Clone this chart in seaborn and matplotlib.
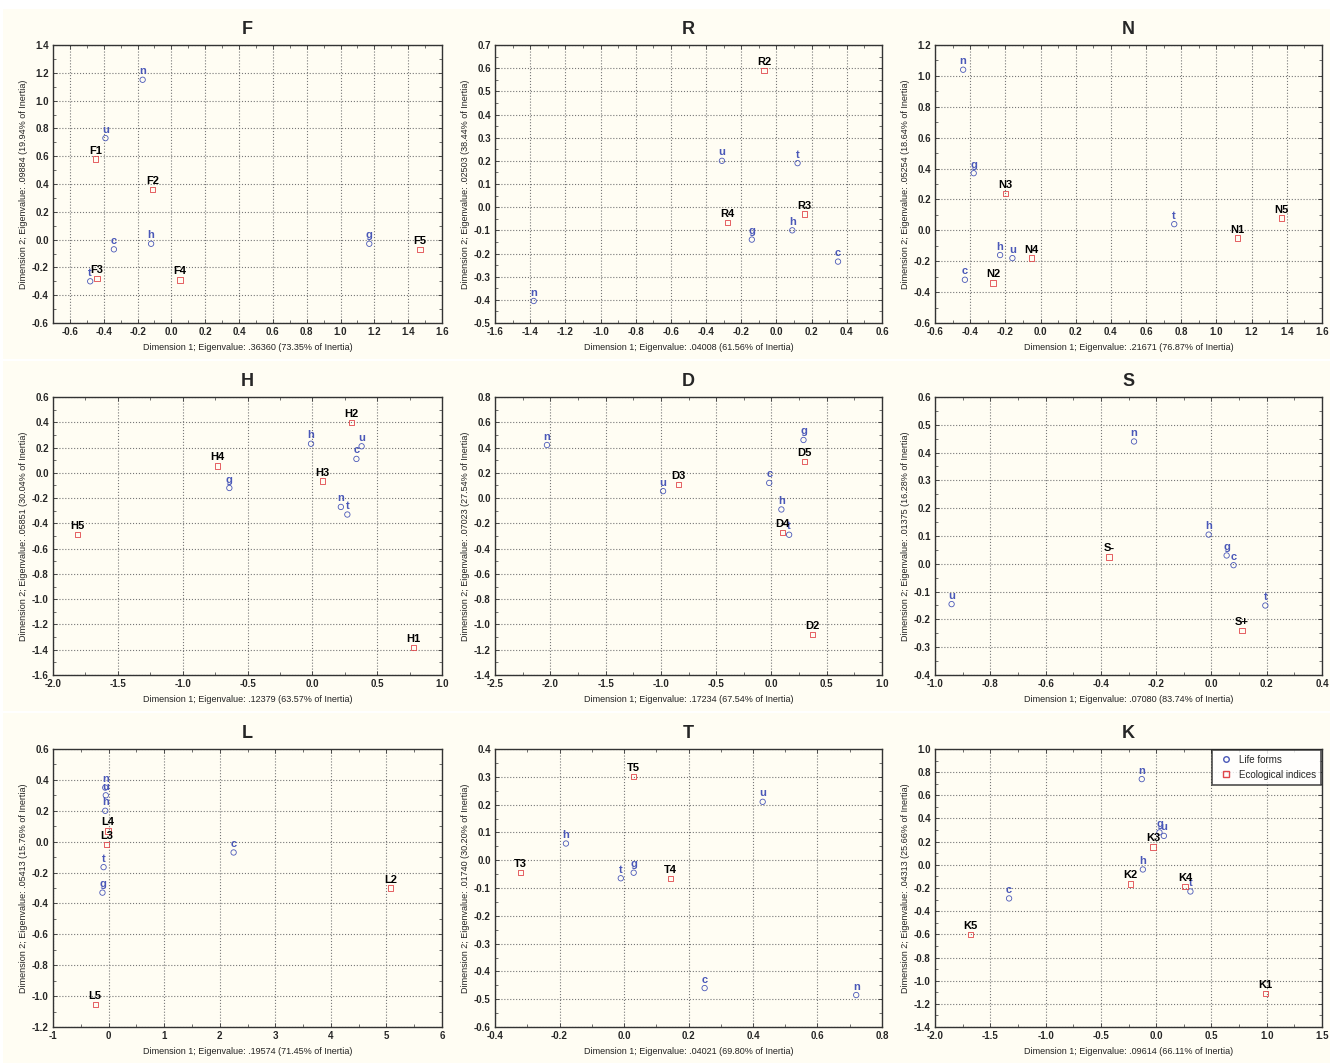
import numpy as np
import pandas as pd
import matplotlib
matplotlib.use('Agg')
import matplotlib.pyplot as plt
from matplotlib.lines import Line2D
from matplotlib.ticker import FixedLocator, AutoMinorLocator, FormatStrFormatter
import seaborn as sns

# life forms (same order in every panel)
life_forms = ['c', 'g', 'h', 'n', 't', 'u']

# coordinates
F_life_x = [-0.34, 1.17, -0.12, -0.17, -0.48, -0.39]
F_life_y = [-0.07, -0.03, -0.03, 1.15, -0.30, 0.73]
F_eco = ['F1', 'F2', 'F3', 'F4', 'F5']
F_eco_x = [-0.45, -0.11, -0.44, 0.05, 1.47]
F_eco_y = [0.58, 0.36, -0.28, -0.29, -0.07]

R_life_x = [0.35, -0.14, 0.09, -1.38, 0.12, -0.31]
R_life_y = [-0.235, -0.14, -0.10, -0.405, 0.19, 0.20]
R_eco = ['R2', 'R3', 'R4']
R_eco_x = [-0.07, 0.16, -0.28]
R_eco_y = [0.59, -0.03, -0.065]

N_life_x = [-0.43, -0.38, -0.23, -0.44, 0.76, -0.16]
N_life_y = [-0.32, 0.37, -0.16, 1.04, 0.04, -0.18]
N_eco = ['N1', 'N2', 'N3', 'N4', 'N5']
N_eco_x = [1.12, -0.27, -0.20, -0.05, 1.37]
N_eco_y = [-0.05, -0.34, 0.24, -0.18, 0.08]

H_life_x = [0.34, -0.64, -0.01, 0.22, 0.27, 0.38]
H_life_y = [0.11, -0.12, 0.23, -0.27, -0.33, 0.21]
H_eco = ['H1', 'H2', 'H3', 'H4', 'H5']
H_eco_x = [0.78, 0.30, 0.08, -0.73, -1.81]
H_eco_y = [-1.38, 0.40, -0.065, 0.055, -0.49]

D_life_x = [-0.02, 0.29, 0.09, -2.03, 0.16, -0.98]
D_life_y = [0.12, 0.46, -0.09, 0.42, -0.29, 0.055]
D_eco = ['D2', 'D3', 'D4', 'D5']
D_eco_x = [0.37, -0.84, 0.10, 0.30]
D_eco_y = [-1.08, 0.11, -0.27, 0.29]

S_life_x = [0.08, 0.055, -0.01, -0.28, 0.195, -0.94]
S_life_y = [-0.005, 0.03, 0.105, 0.44, -0.15, -0.145]
S_eco = ['S-', 'S+']
S_eco_x = [-0.37, 0.11]
S_eco_y = [0.025, -0.24]

L_life_x = [2.25, -0.11, -0.06, -0.06, -0.09, -0.05]
L_life_y = [-0.07, -0.33, 0.20, 0.35, -0.165, 0.30]
L_eco = ['L2', 'L3', 'L4', 'L5']
L_eco_x = [5.07, -0.04, -0.01, -0.24]
L_eco_y = [-0.30, -0.02, 0.07, -1.055]

T_life_x = [0.25, 0.03, -0.18, 0.72, -0.01, 0.43]
T_life_y = [-0.46, -0.045, 0.06, -0.485, -0.065, 0.21]
T_eco = ['T3', 'T4', 'T5']
T_eco_x = [-0.32, 0.145, 0.03]
T_eco_y = [-0.045, -0.065, 0.30]

K_life_x = [-1.33, 0.03, -0.12, -0.13, 0.31, 0.07]
K_life_y = [-0.29, 0.28, -0.04, 0.74, -0.23, 0.25]
K_eco = ['K1', 'K2', 'K3', 'K4', 'K5']
K_eco_x = [0.99, -0.23, -0.03, 0.26, -1.68]
K_eco_y = [-1.11, -0.165, 0.155, -0.185, -0.60]

# eigenvalue / inertia text
x_labels = {
    'F': '.36360 (73.35% of Inertia)', 'R': '.04008 (61.56% of Inertia)',
    'N': '.21671 (76.87% of Inertia)', 'H': '.12379 (63.57% of Inertia)',
    'D': '.17234 (67.54% of Inertia)', 'S': '.07080 (83.74% of Inertia)',
    'L': '.19574 (71.45% of Inertia)', 'T': '.04021 (69.80% of Inertia)',
    'K': '.09614 (66.11% of Inertia)'}
y_labels = {
    'F': '.09884 (19.94% of Inertia)', 'R': '.02503 (38.44% of Inertia)',
    'N': '.05254 (18.64% of Inertia)', 'H': '.05851 (30.04% of Inertia)',
    'D': '.07023 (27.54% of Inertia)', 'S': '.01375 (16.28% of Inertia)',
    'L': '.05413 (15.76% of Inertia)', 'T': '.01740 (30.20% of Inertia)',
    'K': '.04313 (25.66% of Inertia)'}

data = {
    'F': (F_life_x, F_life_y, F_eco, F_eco_x, F_eco_y),
    'R': (R_life_x, R_life_y, R_eco, R_eco_x, R_eco_y),
    'N': (N_life_x, N_life_y, N_eco, N_eco_x, N_eco_y),
    'H': (H_life_x, H_life_y, H_eco, H_eco_x, H_eco_y),
    'D': (D_life_x, D_life_y, D_eco, D_eco_x, D_eco_y),
    'S': (S_life_x, S_life_y, S_eco, S_eco_x, S_eco_y),
    'L': (L_life_x, L_life_y, L_eco, L_eco_x, L_eco_y),
    'T': (T_life_x, T_life_y, T_eco, T_eco_x, T_eco_y),
    'K': (K_life_x, K_life_y, K_eco, K_eco_x, K_eco_y),
}

# axis setup: (xlim, xstep, ylim, ystep, xfmt)
axis_cfg = {
    'F': ((-0.7, 1.6), 0.2, (-0.6, 1.4), 0.2, '%.1f'),
    'R': ((-1.6, 0.6), 0.2, (-0.5, 0.7), 0.1, '%.1f'),
    'N': ((-0.6, 1.6), 0.2, (-0.6, 1.2), 0.2, '%.1f'),
    'H': ((-2.0, 1.0), 0.5, (-1.6, 0.6), 0.2, '%.1f'),
    'D': ((-2.5, 1.0), 0.5, (-1.4, 0.8), 0.2, '%.1f'),
    'S': ((-1.0, 0.4), 0.2, (-0.4, 0.6), 0.1, '%.1f'),
    'L': ((-1.0, 6.0), 1.0, (-1.2, 0.6), 0.2, '%d'),
    'T': ((-0.4, 0.8), 0.2, (-0.6, 0.4), 0.1, '%.1f'),
    'K': ((-2.0, 1.5), 0.5, (-1.4, 1.0), 0.2, '%.1f'),
}

sns.set_style('ticks')
plt.rcParams['font.family'] = ['Liberation Sans', 'DejaVu Sans']

BLUE = '#4a58b8'
RED = '#e0464a'
BG = '#fffdf3'

W, H_ = 1343, 1064
fig = plt.figure(figsize=(W / 100, H_ / 100), dpi=100, facecolor='white')

# axes boxes in pixels: left, right, top, bottom
cols = [(53, 442), (495, 882), (935, 1322)]
rows = [(45, 323), (397, 675), (749, 1027)]
order = [['F', 'R', 'N'], ['H', 'D', 'S'], ['L', 'T', 'K']]

# cream panel backgrounds
for r in range(3):
    for c in range(3):
        x0 = cols[c][0] - 50
        x1 = cols[c][1] + 8
        y0 = rows[r][0] - 36
        y1 = rows[r][1] + 36
        fig.patches.append(plt.Rectangle((x0 / W, 1 - y1 / H_), (x1 - x0) / W, (y1 - y0) / H_,
                                         transform=fig.transFigure,
                                         facecolor=BG, edgecolor='none', zorder=-10))

for r in range(3):
    for c in range(3):
        key = order[r][c]
        lx, ly, eco, ex, ey = data[key]
        (l, rr), (t, b) = cols[c], rows[r]
        ax = fig.add_axes([l / W, 1 - b / H_, (rr - l) / W, (b - t) / H_])
        ax.set_facecolor(BG)

        df = pd.DataFrame({
            'x': list(lx) + list(ex),
            'y': list(ly) + list(ey),
            'label': life_forms + eco,
            'group': ['Life forms'] * len(lx) + ['Ecological indices'] * len(ex),
        })
        sns.scatterplot(data=df, x='x', y='y', hue='group', style='group',
                        markers={'Life forms': 'o', 'Ecological indices': 's'},
                        palette={'Life forms': BLUE, 'Ecological indices': RED},
                        s=15, linewidth=0.6, legend=False, ax=ax, zorder=3)
        for coll in ax.collections:
            fc = coll.get_facecolors()
            coll.set_edgecolors(fc)
            coll.set_facecolors('none')

        for _, row in df.iterrows():
            col = BLUE if row['group'] == 'Life forms' else 'black'
            ax.annotate(row['label'], (row['x'], row['y']), xytext=(0, 2.5),
                        textcoords='offset points', ha='center', va='bottom',
                        fontsize=8, fontweight='bold', color=col, zorder=4)

        xlim, xs, ylim, ys, xfmt = axis_cfg[key]
        ax.set_xlim(xlim)
        ax.set_ylim(ylim)
        xt = np.round(np.arange(np.ceil(xlim[0] / xs - 1e-9) * xs, xlim[1] + xs / 2, xs), 6) + 0.0
        yt = np.round(np.arange(ylim[0], ylim[1] + ys / 2, ys), 6) + 0.0
        ax.xaxis.set_major_locator(FixedLocator(xt))
        ax.yaxis.set_major_locator(FixedLocator(yt))
        ax.xaxis.set_major_formatter(FormatStrFormatter(xfmt))
        ax.yaxis.set_major_formatter(FormatStrFormatter('%.1f'))
        ax.xaxis.set_minor_locator(AutoMinorLocator(2))
        ax.yaxis.set_minor_locator(AutoMinorLocator(2))
        ax.tick_params(which='both', direction='in', top=True, right=True,
                       color='#333333')
        ax.tick_params(which='major', length=3, width=0.6, labelsize=7, pad=3)
        ax.tick_params(which='minor', length=2, width=0.5)
        for lab in ax.get_xticklabels() + ax.get_yticklabels():
            lab.set_fontweight('bold')
        ax.grid(True, which='major', linestyle=':', linewidth=0.8, color='#777777')
        for sp in ax.spines.values():
            sp.set_color('#333333')
            sp.set_linewidth(1.0)

        ax.set_xlabel('Dimension 1; Eigenvalue: ' + x_labels[key], fontsize=6.5,
                      labelpad=4, color='#222222')
        ax.set_ylabel('Dimension 2; Eigenvalue: ' + y_labels[key], fontsize=6.5,
                      labelpad=3, color='#222222')
        ax.set_title(key, fontsize=13, fontweight='bold', pad=8)

        if key == 'K':
            handles = [
                Line2D([], [], linestyle='none', marker='o', markersize=4,
                       markerfacecolor='none', markeredgecolor=BLUE, label='Life forms'),
                Line2D([], [], linestyle='none', marker='s', markersize=4,
                       markerfacecolor='none', markeredgecolor=RED, label='Ecological indices'),
            ]
            leg = ax.legend(handles=handles, loc='upper right', fontsize=7,
                            frameon=True, fancybox=False, borderpad=0.5,
                            handletextpad=0.3, borderaxespad=0.1)
            leg.get_frame().set_edgecolor('#222222')
            leg.get_frame().set_linewidth(1.2)
            leg.get_frame().set_facecolor('white')

fig.savefig('out.png', dpi=100, facecolor='white')
